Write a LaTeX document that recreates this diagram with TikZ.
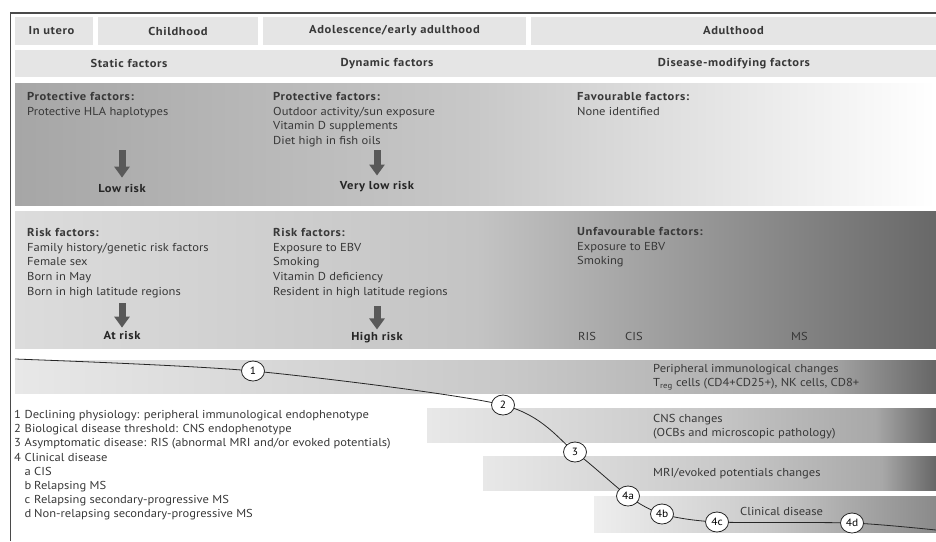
\documentclass[tikz,border=0pt]{standalone}
\usepackage{fontspec}
\setmainfont[FakeStretch=1.09,BoldFeatures={LetterSpace=5}]{PT Sans}
\usetikzlibrary{positioning,arrows.meta,shapes.geometric}

\definecolor{hdrgray}{HTML}{E5E5E5}
\definecolor{txtgray}{HTML}{383838}
\definecolor{arrgray}{HTML}{595959}
\definecolor{framegray}{HTML}{4A4A4A}
\definecolor{protA}{HTML}{A6A6A6}
\definecolor{protB}{HTML}{C8C8C8}
\definecolor{riskA}{HTML}{DCDCDC}
\definecolor{riskB}{HTML}{C4C4C4}
\definecolor{riskC}{HTML}{686868}
\definecolor{bandA}{HTML}{E8E8E8}
\definecolor{bandB}{HTML}{C8C8C8}
\definecolor{bandC}{HTML}{A8A8A8}
\definecolor{bandD}{HTML}{666666}
\definecolor{clinA}{HTML}{EEEEEE}
\definecolor{clinB}{HTML}{CACACA}
\definecolor{clinC}{HTML}{8A8A8A}

\pgfdeclarehorizontalshading{protshade}{100bp}{color(0bp)=(protA); color(25bp)=(protA); color(50bp)=(protB); color(75bp)=(white); color(100bp)=(white)}
\pgfdeclarehorizontalshading{riskshade}{100bp}{color(0bp)=(riskA); color(25bp)=(riskA); color(50bp)=(riskB); color(75bp)=(riskC); color(100bp)=(riskC)}
\pgfdeclarehorizontalshading{bandshade}{100bp}{color(0bp)=(bandA); color(25bp)=(bandA); color(52bp)=(bandB); color(69bp)=(bandC); color(75bp)=(bandD); color(100bp)=(bandD)}
\pgfdeclarehorizontalshading{clinshade}{100bp}{color(0bp)=(clinA); color(25bp)=(clinA); color(50bp)=(clinB); color(75bp)=(clinC); color(100bp)=(clinC)}

\begin{document}
\begin{tikzpicture}[x=1pt,y=-1pt,>=Latex,
  hdr/.style={fill=hdrgray,minimum height=28pt,inner sep=0pt,text=txtgray,font=\fontsize{11.5}{13}\selectfont\bfseries},
  hdrtxt/.style={inner sep=0pt,text=txtgray,font=\fontsize{11.5}{13}\selectfont\bfseries},
  facts/.style={anchor=north west,align=left,inner sep=0pt,text=txtgray,font=\fontsize{11.5}{14.75}\selectfont},
  risklbl/.style={inner sep=1pt,text=black!85,font=\fontsize{11.5}{13}\selectfont\bfseries},
  riskarrow/.style={-{Triangle[width=15pt,length=11pt]},line width=7pt,draw=arrgray},
  bandtxt/.style={anchor=north west,align=left,inner sep=0pt,text=txtgray,font=\fontsize{11.5}{14}\selectfont},
  stage/.style={ellipse,draw=black!85,fill=white,line width=0.8pt,inner sep=0.5pt,minimum width=23pt,minimum height=20pt,font=\fontsize{10.5}{12}\selectfont},
  legtxt/.style={anchor=base west,inner sep=0pt,text=txtgray,font=\fontsize{11.5}{13}\selectfont}]
  \useasboundingbox (0,0) rectangle (936,541);
  \draw[framegray,line width=1.3pt] (10.5,541) -- (10.5,13) -- (936,13);
  % life phases
  \node[hdr,minimum width=78pt] (utero) at (54,31) {\hspace{-5pt}In utero};
  \node[hdr,minimum width=160pt] (child) at (178,31) {Childhood\hspace{12pt}};
  \node[hdr,minimum width=263pt] (adol) at (394.5,31) {Adolescence/early adulthood\hspace{24pt}};
  \node[hdr,minimum width=405pt] (adult) at (733.5,31) {Adulthood};
  \fill[hdrgray] (15,50) rectangle (936,77);
  \node[hdrtxt] (static) at (129,63.5) {Static factors};
  \node[hdrtxt] (dynamic) at (387,63.5) {Dynamic factors};
  \node[hdrtxt] (modif) at (734,63.5) {Disease-modifying factors};
  % panels
  \shade[shading=protshade] (15,83) rectangle (936,205);
  \shade[shading=riskshade] (15,211) rectangle (936,348);
  \node[facts] (prot1) at (27,92) {\textbf{Protective factors:}\\Protective HLA haplotypes};
  \node[facts] (prot2) at (273,92) {\textbf{Protective factors:}\\Outdoor activity/sun exposure\\Vitamin D supplements\\Diet high in fish oils};
  \node[facts] (prot3) at (577,92) {\textbf{Favourable factors:}\\None identified};
  \node[facts] (risk1) at (27,228) {\textbf{Risk factors:}\\Family history/genetic risk factors\\Female sex\\Born in May\\Born in high latitude regions};
  \node[facts] (risk2) at (273,228) {\textbf{Risk factors:}\\Exposure to EBV\\Smoking\\Vitamin D deficiency\\Resident in high latitude regions};
  \node[facts] (risk3) at (577,227) {\textbf{Unfavourable factors:}\\Exposure to EBV\\Smoking};
  \node[legtxt] (ris) at (578,340.7) {RIS};
  \node[legtxt] (cis) at (625,340.7) {CIS};
  \node[legtxt] (ms) at (791,340.7) {MS};
  % risk levels
  \node[risklbl] (lowrisk) at (122,188) {Low risk};
  \node[risklbl] (vlowrisk) at (377,187) {Very low risk};
  \node[risklbl] (atrisk) at (122,335) {At risk};
  \node[risklbl] (highrisk) at (377,338) {High risk};
  \coordinate (la) at (122,150);
  \coordinate (va) at (377,150);
  \coordinate (aa) at (122,303);
  \coordinate (ha) at (377,306);
  \draw[riskarrow,shorten >=5pt] (la) -- (lowrisk);
  \draw[riskarrow,shorten >=5pt] (va) -- (vlowrisk);
  \draw[riskarrow,shorten >=2pt] (aa) -- (atrisk);
  \draw[riskarrow,shorten >=2pt] (ha) -- (highrisk);
  % change bands
  \shade[shading=bandshade] (15,360) rectangle (936,393);
  \shade[shading=bandshade] (427,408) rectangle (936,442);
  \shade[shading=bandshade] (483,456) rectangle (936,490);
  \shade[shading=clinshade] (594,496) rectangle (936,532);
  \node[bandtxt] (periph) at (653,364) {Peripheral immunological changes\\T\textsubscript{reg} cells (CD4+CD25+), NK cells, CD8+};
  \node[bandtxt] (cns) at (653,414) {CNS changes\\(OCBs and microscopic pathology)};
  \node[legtxt] (mri) at (653,476.7) {MRI/evoked potentials changes};
  \node[legtxt] (clin) at (740,515.7) {Clinical disease};
  % disease course
  \coordinate (s0) at (15,359);
  \coordinate (p1) at (253,371);
  \coordinate (p2) at (503,405);
  \coordinate (p3) at (575,452);
  \coordinate (p4a) at (628,496);
  \coordinate (p4b) at (662,514);
  \coordinate (p4c) at (717,522);
  \coordinate (p4d) at (852,523);
  \coordinate (e0) at (936,530);
  \draw[black!85,line width=0.8pt] plot[smooth,tension=0.45] coordinates {(s0) (p1) (p2) (p3) (p4a) (p4b) (p4c) (p4d) (e0)};
  \foreach \p/\l in {p1/1,p2/2,p3/3,p4a/4a,p4b/4b,p4c/4c,p4d/4d}
    \node[stage] (c\l) at (\p) {\l};
  % legend
  \foreach \n/\t [count=\i from 0] in {1/{Declining physiology: peripheral immunological endophenotype},2/{Biological disease threshold: CNS endophenotype},3/{Asymptomatic disease: RIS (abnormal MRI and/or evoked potentials)},4/{Clinical disease}} {
    \node[legtxt] (num\n) at (14,{418.7+14.14*\i}) {\n};
    \node[legtxt] (leg\n) at (24.5,{418.7+14.14*\i}) {\t};
  }
  \foreach \n/\t [count=\i from 4] in {a/CIS,b/Relapsing MS,c/Relapsing secondary-progressive MS,d/Non-relapsing secondary-progressive MS} {
    \node[legtxt] (sub\n) at (24.5,{418.7+14.14*\i}) {\n};
    \node[legtxt] (leg\n) at (34,{418.7+14.14*\i}) {\t};
  }
\end{tikzpicture}
\end{document}
